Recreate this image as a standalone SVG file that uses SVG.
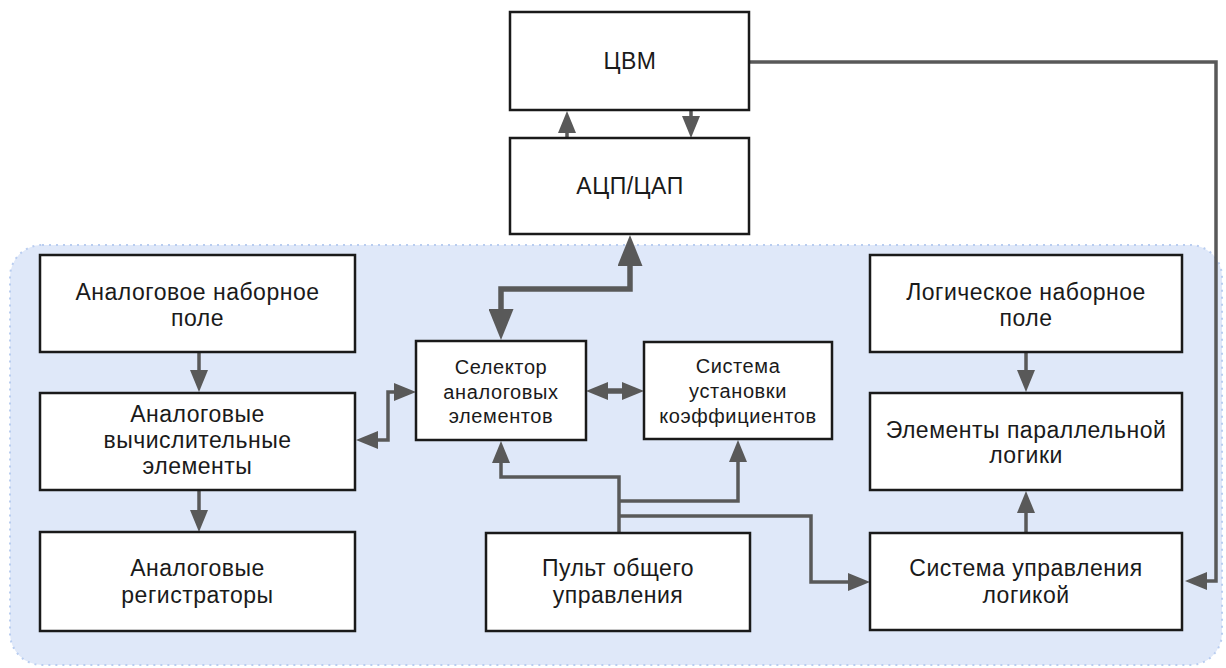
<svg xmlns="http://www.w3.org/2000/svg" width="1226" height="668" viewBox="0 0 1226 668">
<style>
.box{fill:#ffffff;stroke:#1a1a1a;stroke-width:2.5}
.t{font-family:"Liberation Sans",Arial,sans-serif;font-size:23px;letter-spacing:0.5px;fill:#1a1a1a;text-anchor:middle}
.s{font-family:"Liberation Sans",Arial,sans-serif;font-size:20px;letter-spacing:0.6px;fill:#1a1a1a;text-anchor:middle}
.c{fill:none;stroke:#595959;stroke-width:3.5}
.ct{fill:none;stroke:#595959;stroke-width:5.5}
</style>
<defs>
<marker id="a" viewBox="0 0 22 18" refX="0" refY="9" markerWidth="22" markerHeight="18" orient="auto-start-reverse" markerUnits="userSpaceOnUse">
<path d="M0,0 L22,9 L0,18 z" fill="#595959"/>
</marker>
<marker id="b" viewBox="0 0 31 25" refX="0" refY="12.5" markerWidth="31" markerHeight="25" orient="auto-start-reverse" markerUnits="userSpaceOnUse">
<path d="M0,0 L31,12.5 L0,25 z" fill="#595959"/>
</marker>
</defs>
<rect x="10" y="245" width="1212" height="420" rx="32" fill="#dfe8f9" stroke="#b9cdf0" stroke-width="2" stroke-dasharray="2,5"/>
<g id="connectors">
<path class="c" d="M567,138 V133" marker-end="url(#a)"/>
<path class="c" d="M691,111 V116" marker-end="url(#a)"/>
<path class="c" d="M750,62 H1216 V581 H1207" marker-end="url(#a)"/>
<path class="ct" d="M630,266 V289 H501 V309" marker-start="url(#b)" marker-end="url(#b)"/>
<path class="c" d="M378,440 H388 V392 H394" marker-start="url(#a)" marker-end="url(#a)"/>
<path class="ct" d="M608,391 H622" marker-start="url(#a)" marker-end="url(#a)"/>
<path class="c" d="M619,533 V477 H501 V463" marker-end="url(#a)"/>
<path class="c" d="M619,501 H738 V462" marker-end="url(#a)"/>
<path class="c" d="M619,516 H811 V582 H848" marker-end="url(#a)"/>
<path class="c" d="M199,353 V370" marker-end="url(#a)"/>
<path class="c" d="M199,491 V510" marker-end="url(#a)"/>
<path class="c" d="M1026,353 V370" marker-end="url(#a)"/>
<path class="c" d="M1026,532 V513" marker-end="url(#a)"/>
</g>
<g id="cvm"><rect class="box" x="510" y="12" width="239" height="98"/><text class="t" x="630" y="69">ЦВМ</text></g>
<g id="adc"><rect class="box" x="510" y="138" width="239" height="96"/><text class="t" x="630" y="194">АЦП/ЦАП</text></g>
<g id="analog-field"><rect class="box" x="40" y="255" width="315" height="97"/><text class="t" x="197.5" y="300">Аналоговое наборное</text><text class="t" x="197.5" y="326">поле</text></g>
<g id="analog-compute"><rect class="box" x="40" y="393" width="315" height="97"/><text class="t" x="197.5" y="422">Аналоговые</text><text class="t" x="197.5" y="448">вычислительные</text><text class="t" x="197.5" y="474">элементы</text></g>
<g id="analog-reg"><rect class="box" x="40" y="532" width="315" height="99"/><text class="t" x="197.5" y="576">Аналоговые</text><text class="t" x="197.5" y="603">регистраторы</text></g>
<g id="selector"><rect class="box" x="416" y="341" width="170" height="99"/><text class="s" x="501" y="374">Селектор</text><text class="s" x="501" y="398.5">аналоговых</text><text class="s" x="501" y="423">элементов</text></g>
<g id="coef"><rect class="box" x="644" y="342" width="188" height="97"/><text class="s" x="738" y="373">Система</text><text class="s" x="738" y="398">установки</text><text class="s" x="738" y="423">коэффициентов</text></g>
<g id="console"><rect class="box" x="486" y="533" width="264" height="98"/><text class="t" x="618" y="576">Пульт общего</text><text class="t" x="618" y="603">управления</text></g>
<g id="logic-field"><rect class="box" x="870" y="255" width="312" height="97"/><text class="t" x="1026" y="300">Логическое наборное</text><text class="t" x="1026" y="326">поле</text></g>
<g id="parallel-logic"><rect class="box" x="870" y="393" width="312" height="97"/><text class="t" x="1026" y="437.5">Элементы параллельной</text><text class="t" x="1026" y="463">логики</text></g>
<g id="logic-control"><rect class="box" x="870" y="533" width="312" height="97"/><text class="t" x="1026" y="576">Система управления</text><text class="t" x="1026" y="603">логикой</text></g>
</svg>
